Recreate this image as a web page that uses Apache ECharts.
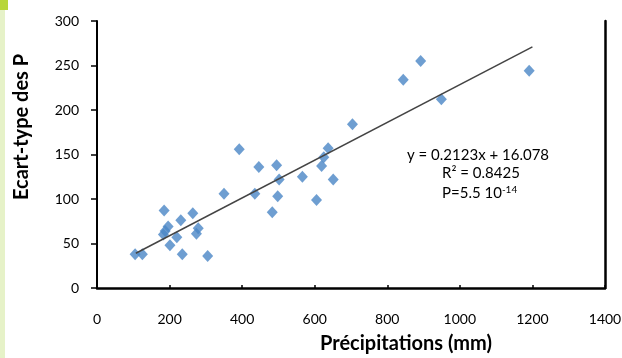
<!DOCTYPE html>
<html>
<head>
<meta charset="utf-8">
<script src="https://cdn.jsdelivr.net/npm/echarts@6/dist/echarts.min.js"></script>
<style>html,body{margin:0;padding:0;background:#fff;}#c{width:622px;height:358px;}</style>
</head>
<body>
<div id="c"></div>
<script>
// Data
var precipitation = [105,125,183,185,188,196,201,220,231,235,264,274,279,305,350,392,435,446,483,495,498,502,566,605,619,625,637,651,704,844,892,949,1191];
var ecartType     = [38, 38, 60, 87, 64, 69, 48, 57, 76, 38, 84, 61, 67, 36,106,156,106,136, 85,138,103,122,125, 99,137,147,157,122,184,234,255,212,244];
var trendX = [107, 1200];
var trendY = [39, 271];
var xTicks = [0,200,400,600,800,1000,1200,1400];
var yTicks = [0,50,100,150,200,250,300];
var eqLines = ['y = 0.2123x + 16.078', 'R\u00B2 = 0.8425', 'P=5.5 10', '-14'];

var pts = precipitation.map(function(x,i){return [x, ecartType[i]];});
var trend = trendX.map(function(x,i){return [x, trendY[i]];});

var chart = echarts.init(document.getElementById('c'));
var FONT = 'Lato';
chart.setOption({
  animation: false,
  backgroundColor: '#fff',
  grid: {left: 97, right: 17, top: 21, bottom: 70, containLabel: false, outerBoundsMode: 'none'},
  xAxis: {
    type: 'value', min: xTicks[0], max: xTicks[xTicks.length-1], interval: 200,
    splitLine: {show: false},
    axisLine: {show: true, onZero: false, lineStyle: {color: '#000', width: 2.5}},
    axisTick: {show: true, inside: true, length: 3, lineStyle: {color: '#000', width: 1.5}},
    axisLabel: {color: '#000', fontFamily: FONT, fontSize: 14, margin: 24, formatter: function(v){return String(v);}},
    name: 'Précipitations (mm)', nameLocation: 'middle', nameGap: 46,
    nameTextStyle: {color: '#000', fontFamily: FONT, fontSize: 20, fontWeight: 'bold', padding: [0,0,0,110]}
  },
  yAxis: [{
    type: 'value', min: yTicks[0], max: yTicks[yTicks.length-1], interval: 50,
    splitLine: {show: false},
    axisLine: {show: true, lineStyle: {color: '#000', width: 2}},
    axisTick: {show: true, inside: false, length: 6, lineStyle: {color: '#000', width: 1.5}},
    axisLabel: {color: '#000', fontFamily: FONT, fontSize: 14, margin: 18, formatter: function(v){return String(v);}},
    name: 'Ecart-type des P', nameLocation: 'middle', nameGap: 65,
    nameTextStyle: {color: '#000', fontFamily: FONT, fontSize: 20, fontWeight: 'bold', padding: [0,0,0,55]}
  }, {
    type: 'value', position: 'right', min: 0, max: 300, interval: 50,
    splitLine: {show: false},
    axisLine: {show: true, lineStyle: {color: '#000', width: 2.5}},
    axisTick: {show: false}, axisLabel: {show: false}
  }],
  series: [{
    type: 'scatter', data: pts, symbol: 'diamond', symbolSize: [11, 12],
    itemStyle: {color: '#4a86c6'}, z: 2
  }, {
    type: 'line', data: trend, showSymbol: false, symbol: 'none',
    lineStyle: {color: '#444', width: 1.5}, z: 3
  }],
  graphic: [
    {type: 'rect', shape: {x: 0, y: 0, width: 5, height: 358}, style: {fill: '#e6f2c8'}, silent: true},
    {type: 'rect', shape: {x: 0, y: 0, width: 8, height: 10}, style: {fill: '#b8d63a'}, silent: true},
    {type: 'text', left: 407, top: 148, style: {
      text: '{a|' + eqLines[0] + '}', rich: {a: {fontFamily: FONT, fontSize: 15, fill: '#000'}}}},
    {type: 'text', left: 442, top: 166, style: {
      text: '{a|' + eqLines[1] + '}', rich: {a: {fontFamily: FONT, fontSize: 15, fill: '#000'}}}},
    {type: 'text', left: 442, top: 185, style: {
      text: '{a|' + eqLines[2] + '}{s|' + eqLines[3] + '}',
      rich: {a: {fontFamily: FONT, fontSize: 15, fill: '#000'},
             s: {fontFamily: FONT, fontSize: 10, fill: '#000', verticalAlign: 'top', padding: [0,0,6,0]}}}}
  ]
});
</script>
</body>
</html>
